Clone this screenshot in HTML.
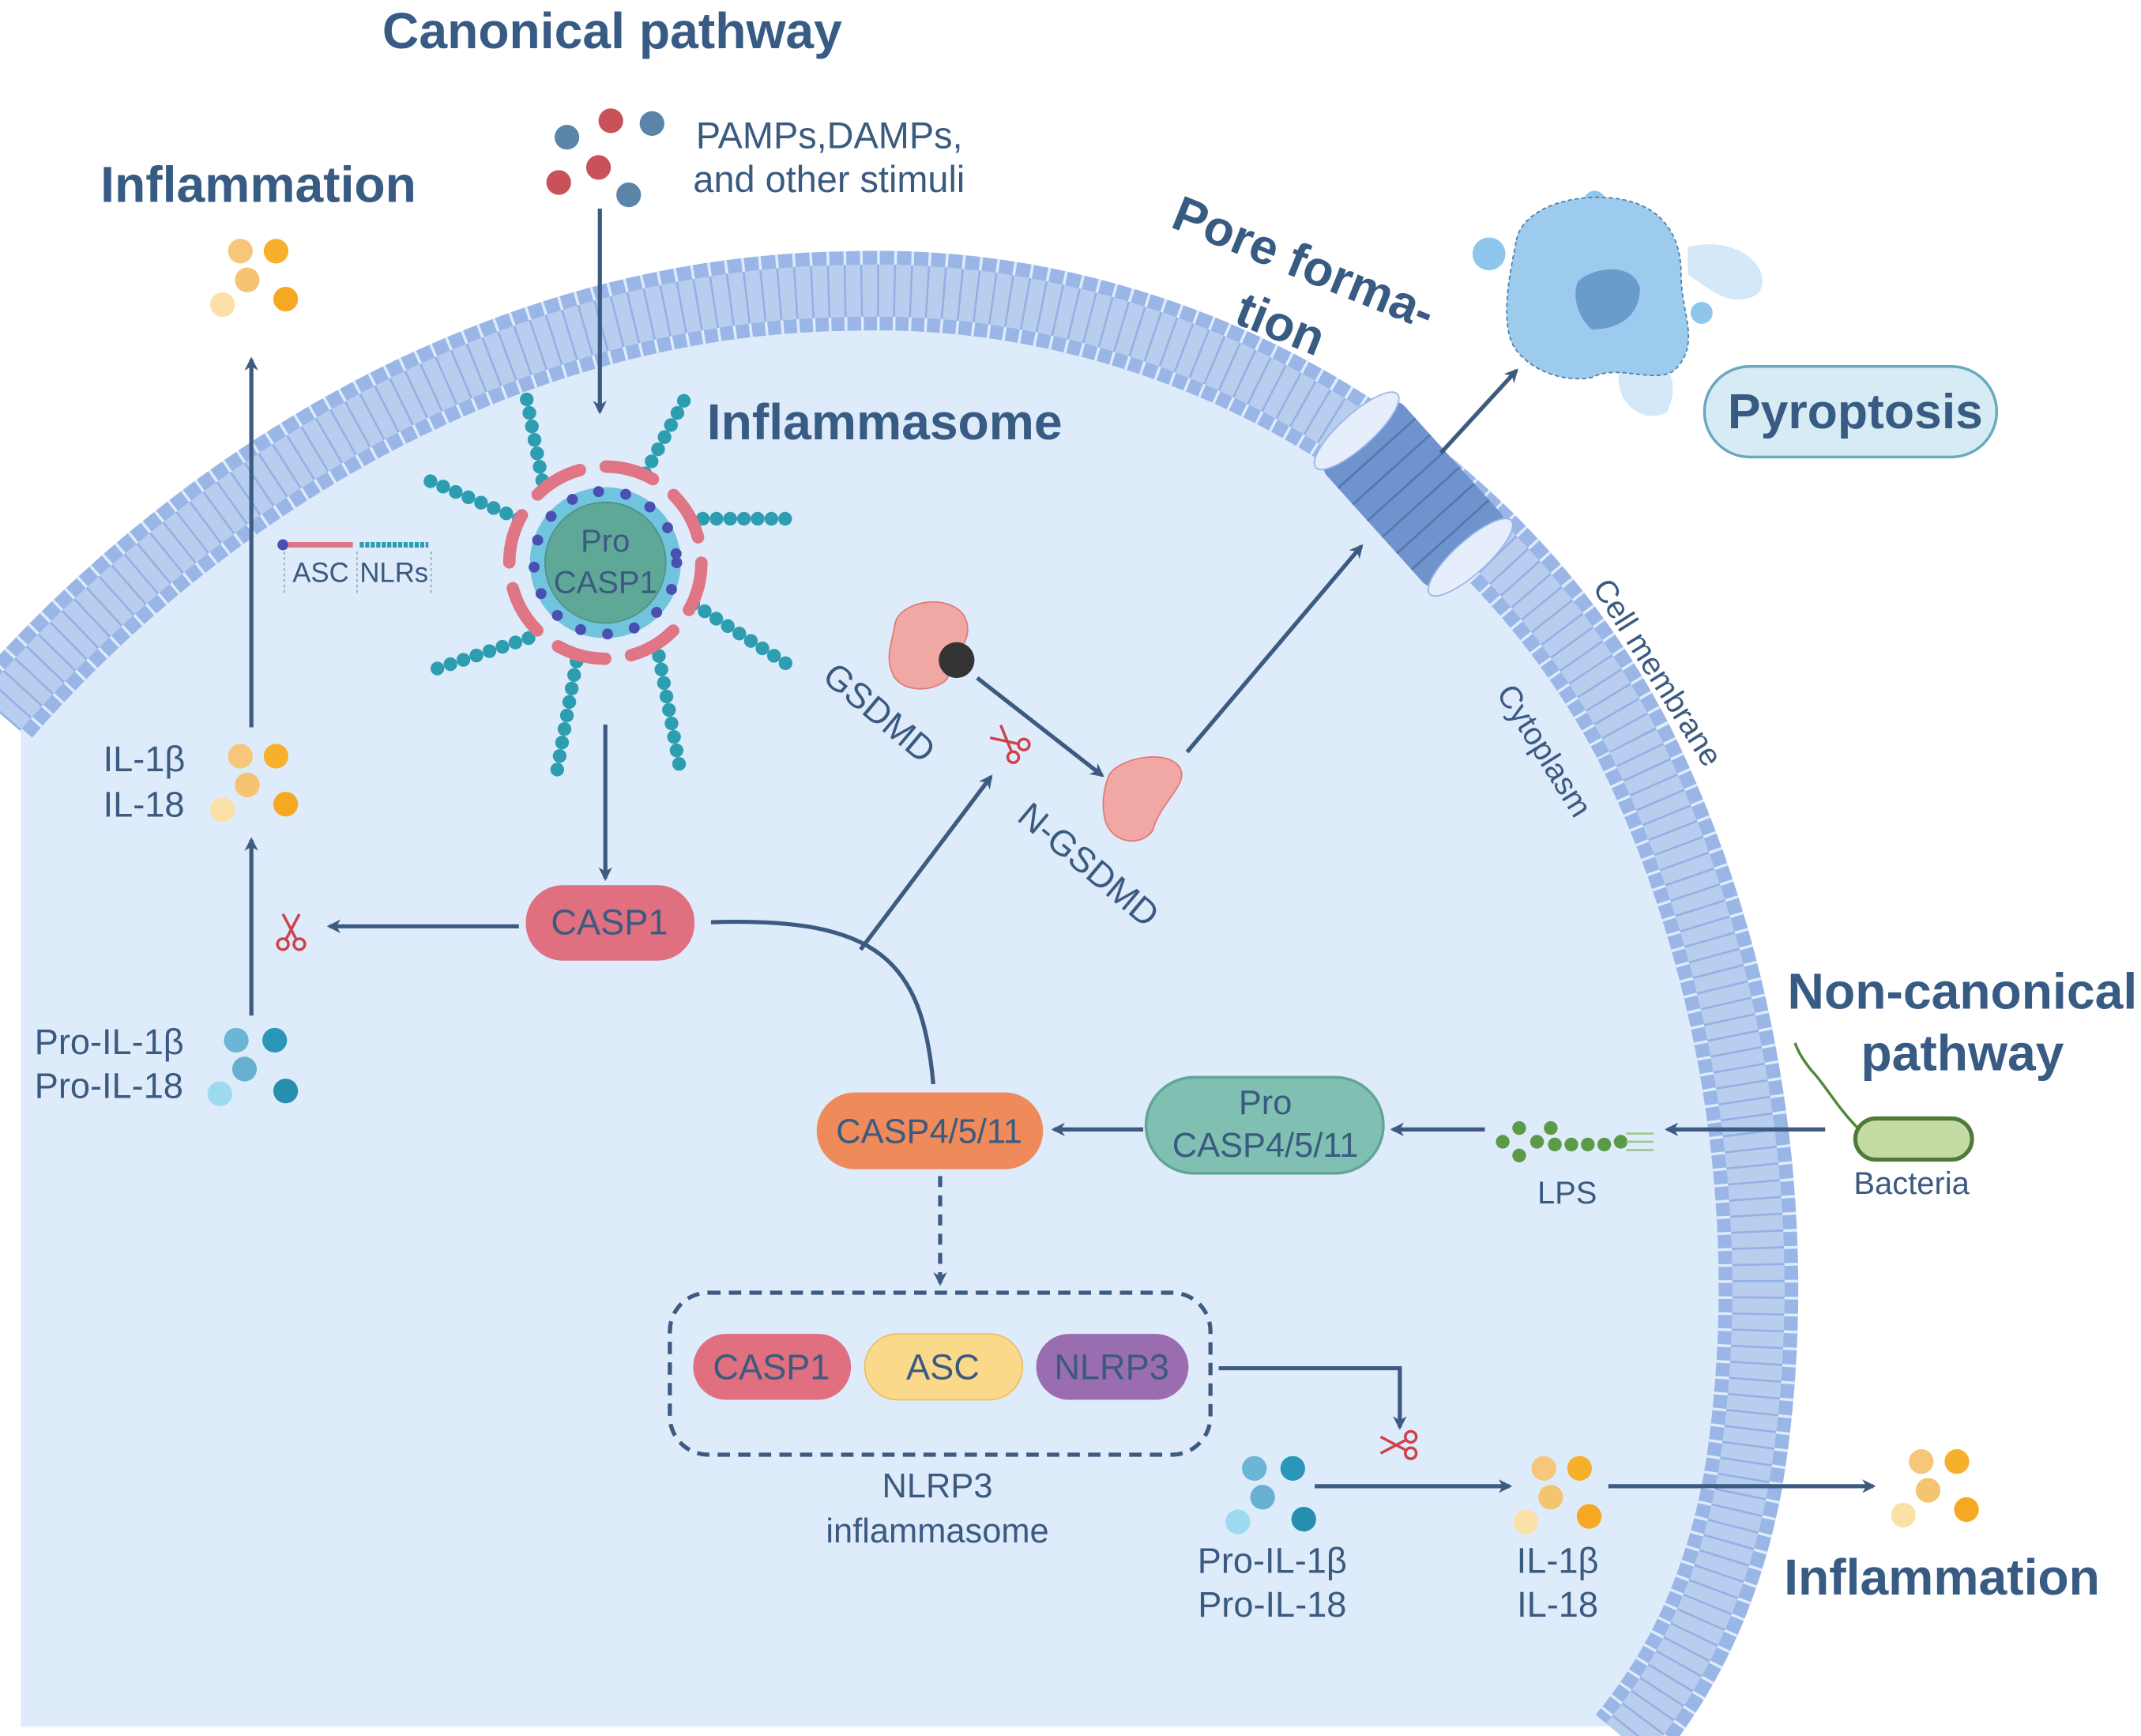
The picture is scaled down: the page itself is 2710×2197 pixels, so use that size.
<!DOCTYPE html>
<html><head><meta charset="utf-8"><style>
html,body{margin:0;padding:0;background:#fff;}
svg{display:block;}
text{font-family:"Liberation Sans",Arial,sans-serif;fill:#3b5a80;}
.b{font-weight:bold;fill:#375b83;}
</style></head><body>
<svg width="2710" height="2197" viewBox="0 0 1560 1265" xmlns="http://www.w3.org/2000/svg">
<defs>
<marker id="ah" markerWidth="10" markerHeight="10" refX="8" refY="5" orient="auto" markerUnits="userSpaceOnUse" viewBox="0 0 10 10">
<path d="M0,0 L10,5 L0,10 L3,5 Z" fill="#3d5a80"/></marker>
<g id="sc" stroke="#d0404a" stroke-width="2" fill="none">
<circle cx="-6" cy="8" r="4"/><circle cx="6" cy="8" r="4"/>
<line x1="-4" y1="5" x2="6" y2="-14"/><line x1="4" y1="5" x2="-6" y2="-14"/></g>
<path id="mp" d="M 0,520 C 130,370 350,215 620,212 C 850,205 1080,330 1190,540 C 1270,700 1300,900 1270,1080 C 1255,1160 1225,1220 1185,1268"/>
</defs>
<rect width="1560" height="1265" fill="#fff"/>
<!-- cell interior -->
<path d="M 15,505 C 130,370 350,215 620,212 C 850,205 1080,330 1190,540 C 1270,700 1300,900 1270,1080 C 1255,1160 1225,1220 1190,1258 L 15,1258 Z" fill="#deebfb"/>
<!-- membrane -->
<g fill="none">
<use href="#mp" stroke="#9ab6e6" stroke-width="58"/>
<use href="#mp" stroke="#deebfb" stroke-width="58" stroke-dasharray="2 10"/>
<use href="#mp" stroke="#b9cdef" stroke-width="38"/>
<use href="#mp" stroke="#93b1e3" stroke-width="38" stroke-dasharray="1.5 10.5"/>
</g>
<!-- pore -->
<g transform="translate(1030,360) rotate(48)">
<rect x="-62" y="-38" width="124" height="76" rx="10" fill="#6f93cc"/>
<g stroke="#5577b0" stroke-width="1.5" fill="none">
<path d="M-40,-38 v76 M-24,-38 v76 M-8,-38 v76 M8,-38 v76 M24,-38 v76 M40,-38 v76"/></g>
<ellipse cx="-62" cy="0" rx="12" ry="40" fill="#e6eefb" stroke="#9ab6e6"/>
<ellipse cx="62" cy="0" rx="12" ry="40" fill="#e6eefb" stroke="#9ab6e6"/>
</g>
<!-- titles -->
<text x="446" y="35" class="b" font-size="37" text-anchor="middle">Canonical pathway</text>
<text x="73" y="147" class="b" font-size="37">Inflammation</text>
<text x="515" y="320" class="b" font-size="37">Inflammasome</text>
<text class="b" font-size="36" transform="translate(852,165) rotate(22)">Pore forma-</text>
<text class="b" font-size="36" transform="translate(898,235) rotate(22)">tion</text>
<text x="1430" y="735" class="b" font-size="37" text-anchor="middle">Non-canonical</text>
<text x="1430" y="780" class="b" font-size="37" text-anchor="middle">pathway</text>
<text x="1300" y="1162" class="b" font-size="37">Inflammation</text>
<!-- stimuli -->
<circle cx="413" cy="100" r="9" fill="#5a85a8"/><circle cx="475" cy="90" r="9" fill="#5a85a8"/>
<circle cx="445" cy="88" r="9" fill="#c9515a"/><circle cx="436" cy="122" r="9" fill="#c9515a"/>
<circle cx="407" cy="133" r="9" fill="#c9515a"/><circle cx="458" cy="142" r="9" fill="#5a85a8"/>
<text x="507" y="108" font-size="27">PAMPs,DAMPs,</text>
<text x="505" y="140" font-size="27">and other stimuli</text>
<!-- arrows -->
<g stroke="#3d5a80" stroke-width="3" fill="none" marker-end="url(#ah)">
<line x1="437" y1="152" x2="437" y2="300"/>
<line x1="183" y1="530" x2="183" y2="262"/>
<line x1="183" y1="740" x2="183" y2="612"/>
<line x1="378" y1="675" x2="240" y2="675"/>
<line x1="441" y1="528" x2="441" y2="640"/>
<line x1="627" y1="692" x2="722" y2="566"/>
<line x1="712" y1="494" x2="803" y2="565"/>
<line x1="865" y1="548" x2="992" y2="398"/>
<line x1="1050" y1="330" x2="1105" y2="270"/>
<line x1="1330" y1="823" x2="1215" y2="823"/>
<line x1="1082" y1="823" x2="1015" y2="823"/>
<line x1="833" y1="823" x2="768" y2="823"/>
<line x1="685" y1="857" x2="685" y2="935" stroke-dasharray="8 6"/>
<path d="M888,997 H1020 V1040"/>
<line x1="958" y1="1083" x2="1100" y2="1083"/>
<line x1="1172" y1="1083" x2="1365" y2="1083"/>
</g>
<path d="M518,672 C640,668 672,700 680,790" stroke="#3d5a80" stroke-width="3" fill="none"/>
<!-- orange dots -->
<g id="or">
<circle cx="175" cy="183" r="9" fill="#f6c77a"/><circle cx="201" cy="183" r="9" fill="#f7b02b"/>
<circle cx="180" cy="204" r="9" fill="#f5c470"/><circle cx="162" cy="222" r="9" fill="#fbe1a8"/>
<circle cx="208" cy="218" r="9" fill="#f7a823"/></g>
<use href="#or" transform="translate(0,368)"/>
<use href="#or" transform="translate(950,887)"/>
<use href="#or" transform="translate(1225,882)"/>
<g id="bl">
<circle cx="172" cy="758" r="9" fill="#6bb5d6"/><circle cx="200" cy="758" r="9" fill="#2a96b8"/>
<circle cx="178" cy="779" r="9" fill="#68b0d0"/><circle cx="160" cy="797" r="9" fill="#9ddaf0"/>
<circle cx="208" cy="795" r="9" fill="#268fae"/></g>
<use href="#bl" transform="translate(742,312)"/>
<text x="75" y="562" font-size="26">IL-1β</text><text x="75" y="595" font-size="26">IL-18</text>
<text x="25" y="768" font-size="26">Pro-IL-1β</text><text x="25" y="800" font-size="26">Pro-IL-18</text>
<text x="927" y="1146" font-size="26" text-anchor="middle">Pro-IL-1β</text><text x="927" y="1178" font-size="26" text-anchor="middle">Pro-IL-18</text>
<text x="1135" y="1146" font-size="26" text-anchor="middle">IL-1β</text><text x="1135" y="1178" font-size="26" text-anchor="middle">IL-18</text>
<!-- scissors -->
<use href="#sc" transform="translate(212,680)"/>
<use href="#sc" transform="translate(736,542) rotate(-50)"/>
<use href="#sc" transform="translate(1020,1053) rotate(-90)"/>
<!-- inflammasome -->
<g stroke="#2d9db0" stroke-width="10" stroke-linecap="round" stroke-dasharray="0 10" fill="none">
<line x1="395" y1="350" x2="382" y2="282"/>
<line x1="470" y1="345" x2="502" y2="285"/>
<line x1="512" y1="378" x2="582" y2="378"/>
<line x1="505" y1="440" x2="575" y2="485"/>
<line x1="480" y1="478" x2="495" y2="558"/>
<line x1="420" y1="482" x2="405" y2="566"/>
<line x1="385" y1="465" x2="310" y2="490"/>
<line x1="378" y1="378" x2="312" y2="350"/>
</g>
<circle cx="441" cy="410" r="70" fill="none" stroke="#e07585" stroke-width="9" stroke-dasharray="36 19" stroke-linecap="round"/>
<circle cx="441" cy="410" r="55" fill="#70c4de"/>
<circle cx="441" cy="410" r="52" fill="none" stroke="#4a4fb0" stroke-width="8" stroke-dasharray="0 20" stroke-linecap="round"/>
<circle cx="441" cy="410" r="44" fill="#5fa898" stroke="#4d9384"/>
<text x="441" y="402" font-size="23" text-anchor="middle">Pro</text>
<text x="441" y="432" font-size="23" text-anchor="middle">CASP1</text>
<!-- legend -->
<circle cx="206" cy="397" r="4" fill="#4a4fb0"/>
<line x1="210" y1="397" x2="257" y2="397" stroke="#e07585" stroke-width="4"/>
<line x1="262" y1="397" x2="312" y2="397" stroke="#2d9db0" stroke-width="4" stroke-dasharray="3 1"/>
<path d="M207,402 V432 M260,402 V432 M314,402 V432" stroke="#9aa" stroke-width="1" stroke-dasharray="2 2"/>
<text x="213" y="424" font-size="20">ASC</text><text x="262" y="424" font-size="20">NLRs</text>
<!-- GSDMD -->
<path d="M652,455 C655,438 690,432 702,448 C712,465 695,475 690,495 C680,505 655,505 650,490 C645,478 650,468 652,455 Z" fill="#f1a7a3" stroke="#dd7b78"/>
<circle cx="697" cy="481" r="13" fill="#333"/>
<path d="M808,565 C815,552 852,545 860,560 C866,572 845,585 840,605 C832,617 812,615 806,600 C802,588 804,575 808,565 Z" fill="#f1a7a3" stroke="#dd7b78"/>
<text font-size="26" transform="translate(598,495) rotate(40)">GSDMD</text>
<text font-size="26" transform="translate(740,597) rotate(40)">N-GSDMD</text>
<!-- pyroptosis cell -->
<g>
<circle cx="1085" cy="185" r="12" fill="#8ec6ec"/>
<circle cx="1162" cy="147" r="8" fill="#8ec6ec"/>
<path d="M1230,180 C1270,170 1295,200 1280,215 C1260,225 1245,210 1230,200 Z" fill="#d5e8f7"/>
<path d="M1180,270 C1200,255 1230,265 1215,300 C1200,310 1175,295 1180,270 Z" fill="#d5e8f7"/>
<path d="M1105,175 C1110,150 1150,140 1180,145 C1210,150 1225,170 1225,200 C1225,230 1240,250 1220,270 C1205,280 1180,265 1160,275 C1135,280 1105,265 1100,245 C1095,225 1100,200 1105,175 Z" fill="#9ccbee" stroke="#4a7fa8" stroke-dasharray="3 2"/>
<path d="M1150,205 C1160,195 1190,190 1195,210 C1195,230 1180,240 1160,240 C1150,232 1145,215 1150,205 Z" fill="#6a9ccb"/>
<circle cx="1240" cy="228" r="8" fill="#8ec6ec"/>
</g>
<rect x="1242" y="267" width="213" height="66" rx="33" fill="#d7ebf5" stroke="#6aa8c0" stroke-width="2"/>
<text x="1352" y="312" class="b" font-size="36" text-anchor="middle">Pyroptosis</text>
<text font-size="23" transform="translate(1160,428) rotate(58)">Cell membrane</text>
<text font-size="23" transform="translate(1090,505) rotate(58)">Cytoplasm</text>
<!-- bacteria -->
<path d="M1360,828 C1340,810 1330,790 1320,780 C1312,770 1310,765 1308,760" stroke="#4f8a3a" stroke-width="2" fill="none"/>
<rect x="1352" y="815" width="85" height="30" rx="15" fill="#c3dba2" stroke="#4f7a3a" stroke-width="3"/>
<text x="1393" y="870" font-size="23" text-anchor="middle">Bacteria</text>
<!-- LPS -->
<g fill="#5a9a48">
<circle cx="1095" cy="832" r="5"/><circle cx="1107" cy="822" r="5"/><circle cx="1107" cy="842" r="5"/><circle cx="1120" cy="832" r="5"/>
<circle cx="1130" cy="822" r="5"/><circle cx="1133" cy="834" r="5"/><circle cx="1145" cy="834" r="5"/><circle cx="1157" cy="834" r="5"/><circle cx="1169" cy="834" r="5"/><circle cx="1181" cy="832" r="5"/></g>
<path d="M1185,826 h20 M1185,832 h20 M1185,838 h20" stroke="#9cc98a" stroke-width="1.5"/>
<text x="1142" y="877" font-size="23" text-anchor="middle">LPS</text>
<!-- pills -->
<rect x="383" y="645" width="123" height="55" rx="27" fill="#e06f80"/>
<text x="444" y="681" font-size="26" text-anchor="middle">CASP1</text>
<rect x="835" y="785" width="173" height="70" rx="35" fill="#7fc0b2" stroke="#62a596" stroke-width="2"/>
<text x="922" y="812" font-size="25" text-anchor="middle">Pro</text>
<text x="922" y="843" font-size="25" text-anchor="middle">CASP4/5/11</text>
<rect x="595" y="796" width="165" height="56" rx="28" fill="#ef8a5a"/>
<text x="677" y="833" font-size="25" text-anchor="middle">CASP4/5/11</text>
<rect x="488" y="942" width="394" height="118" rx="28" fill="none" stroke="#3d5a80" stroke-width="3" stroke-dasharray="9 6"/>
<rect x="505" y="972" width="115" height="48" rx="24" fill="#e06f80"/>
<text x="562" y="1005" font-size="26" text-anchor="middle">CASP1</text>
<rect x="630" y="972" width="115" height="48" rx="24" fill="#fbd98a" stroke="#e9c060"/>
<text x="687" y="1005" font-size="26" text-anchor="middle">ASC</text>
<rect x="755" y="972" width="111" height="48" rx="24" fill="#9a6db0"/>
<text x="810" y="1005" font-size="26" text-anchor="middle">NLRP3</text>
<text x="683" y="1091" font-size="25" text-anchor="middle">NLRP3</text>
<text x="683" y="1124" font-size="25" text-anchor="middle">inflammasome</text>
</svg>
</body></html>
